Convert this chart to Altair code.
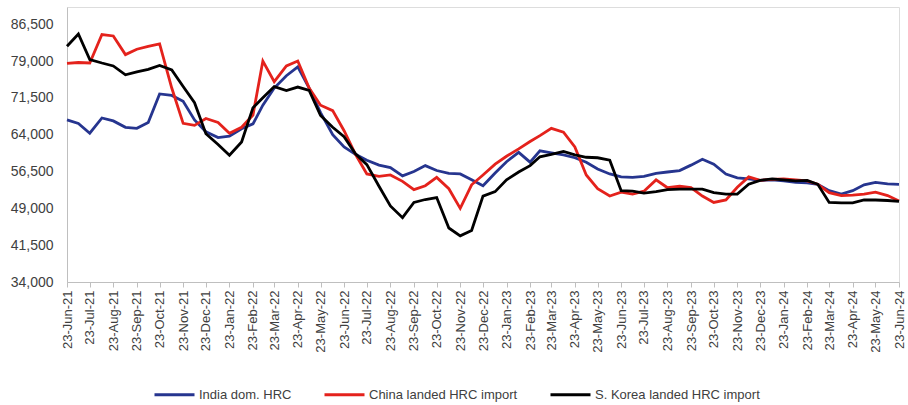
import altair as alt
import pandas as pd

series_names = ["India dom. HRC", "China landed HRC import", "S. Korea landed HRC import"]
series_colors = ["#26358f", "#e4221c", "#000000"]

# semi-monthly observation dates: 23rd of each month and 8th of the following month
dates = []
for k in range(37):
    yy, mm = divmod(5 + k, 12)
    dates.append(f"{2021 + yy}-{mm + 1:02d}-23T00:00:00")
    if k < 36:
        yy2, mm2 = divmod(6 + k, 12)
        dates.append(f"{2021 + yy2}-{mm2 + 1:02d}-08T00:00:00")

india = [67000, 66300, 64300, 67400, 66800, 65500, 65300, 66500, 72300, 72000,
         70800, 67000, 64600, 63400, 63700, 65200, 66200, 70000, 73500, 76000,
         77800, 73500, 68500, 64000, 61500, 60000, 58800, 57800, 57300, 55600,
         56500, 57700, 56700, 56100, 56000, 54800, 53600, 56200, 58500, 60400,
         58400, 60700, 60300, 59900, 59300, 58400, 57000, 56000, 55400, 55300,
         55500, 56100, 56400, 56700, 57800, 59000, 58000, 56000, 55200, 55000,
         54700, 54800, 54600, 54300, 54200, 53900, 52600, 51900, 52600, 53800,
         54300, 54000, 53900]

china = [78500, 78700, 78600, 84400, 84100, 80300, 81400, 82000, 82500, 73500,
         66300, 65900, 67300, 66500, 64300, 65500, 68000, 79000, 74800, 78000,
         79000, 73500, 70000, 68900, 64800, 60000, 56000, 55500, 55800, 54500,
         52800, 53600, 55300, 53000, 49000, 53800, 55800, 58000, 59600, 61100,
         62600, 63800, 65300, 64500, 61500, 55800, 53000, 51500, 52300, 51900,
         52500, 54800, 53200, 53500, 53200, 51500, 50200, 50700, 53300, 55400,
         54700, 54900, 55000, 54800, 54600, 53900, 52200, 51600, 51700, 51900,
         52300, 51600, 50500]

korea = [82000, 84500, 79300, 78600, 78000, 76200, 76800, 77300, 78100, 77200,
         73800, 70500, 64200, 62000, 59800, 62500, 69500, 71500, 73800, 73000,
         73700, 73000, 67900, 65500, 63600, 60100, 57900, 53500, 49500, 47100,
         50200, 50800, 51200, 45000, 43400, 44500, 51500, 52400, 54800, 56400,
         57700, 59500, 60000, 60600, 59900, 59400, 59300, 58800, 52600, 52500,
         52100, 52400, 52800, 52900, 52900, 52900, 52200, 51900, 51900, 53900,
         54700, 55000, 54800, 54600, 54700, 53900, 50200, 50100, 50100, 50700,
         50700, 50600, 50400]

y_ticks = [34000, 41500, 49000, 56500, 64000, 71500, 79000, 86500]

rows = []
for name, vals in zip(series_names, [india, china, korea]):
    for d, v in zip(dates, vals):
        rows.append({"date": d, "value": v, "series": name, "order": series_names.index(name)})
df = pd.DataFrame(rows)

month_ticks = []
for k in range(37):
    yy, mm = divmod(5 + k, 12)
    month_ticks.append(alt.DateTime(year=2021 + yy, month=mm + 1, date=23))

FONT = "Liberation Sans"
TXT = "#404040"

chart = alt.Chart(df).mark_line(strokeWidth=2.8, interpolate="linear").encode(
    x=alt.X("date:T",
            scale=alt.Scale(domain=[alt.DateTime(year=2021, month=6, date=23),
                                    alt.DateTime(year=2024, month=6, date=23)]),
            axis=alt.Axis(values=month_ticks, format="%d-%b-%y", labelAngle=-90,
                          title=None, grid=False, domainColor="#bfbfbf", tickColor="#bfbfbf",
                          tickSize=5, labelFont=FONT, labelFontSize=13, labelColor=TXT,
                          labelPadding=3, labelOverlap=False, labelFlush=False)),
    y=alt.Y("value:Q",
            scale=alt.Scale(domain=[34000, 90000], nice=False, zero=False),
            axis=alt.Axis(values=y_ticks, labelExpr="format(datum.value, ',')",
                          title=None, grid=False,
                          domainColor="#bfbfbf", ticks=False, labelPadding=14,
                          labelFont=FONT, labelFontSize=14, labelColor=TXT)),
    color=alt.Color("series:N",
                    scale=alt.Scale(domain=series_names, range=series_colors),
                    legend=alt.Legend(orient="none", legendX=86, legendY=366,
                                      direction="horizontal", title=None,
                                      symbolType="stroke", symbolSize=1600,
                                      symbolStrokeWidth=3, labelFont=FONT,
                                      labelFontSize=13, labelColor=TXT, labelLimit=400,
                                      labelOffset=3, columnPadding=26)),
    order=alt.Order("order:Q"),
    detail="series:N",
).properties(
    width=832, height=275,
    autosize=alt.AutoSizeParams(type="none"),
    padding={"left": 67, "top": 7, "right": 9, "bottom": 123},
).configure_view(stroke=None).configure(background="white")

chart.save("out.html", embed_options={"renderer": "svg", "actions": False})
